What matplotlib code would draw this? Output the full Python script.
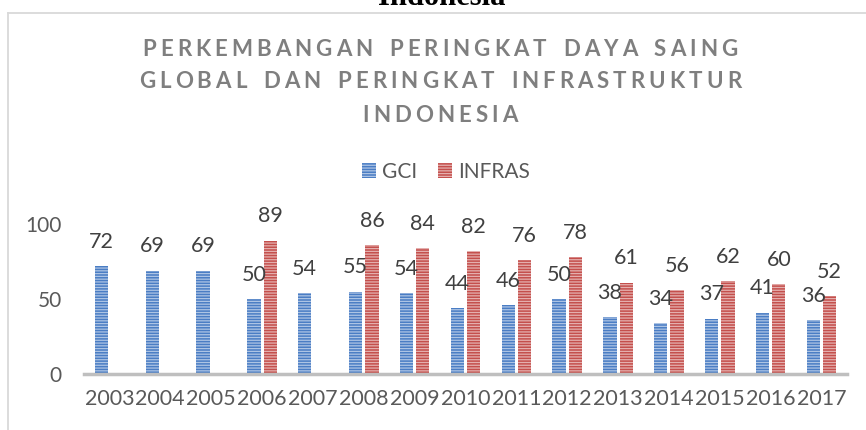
import matplotlib
matplotlib.use("Agg")
import matplotlib.pyplot as plt
from matplotlib.patches import Patch
from matplotlib.lines import Line2D
import numpy as np

years = ["2003", "2004", "2005", "2006", "2007", "2008", "2009", "2010",
         "2011", "2012", "2013", "2014", "2015", "2016", "2017"]
gci = [72, 69, 69, 50, 54, 55, 54, 44, 46, 50, 38, 34, 37, 41, 36]
infras = [None, None, None, 89, None, 86, 84, 82, 76, 78, 61, 56, 62, 60, 52]
series_names = ["GCI", "INFRAS"]
title_lines = ["PERKEMBANGAN PERINGKAT DAYA SAING",
               "GLOBAL DAN PERINGKAT INFRASTRUKTUR",
               "INDONESIA"]
yticks = [0, 50, 100]

BLUE = "#4A7DC4"
RED = "#C44F4C"
TXT = "#595959"
plt.rcParams['font.family'] = ['Lato', 'DejaVu Sans']
plt.rcParams['hatch.linewidth'] = 0.9

W, H = 866, 430
fig = plt.figure(figsize=(W / 100, H / 100), dpi=100)

# outer chart border (cropped)
fig.add_artist(Line2D([8 / W, 8 / W], [0, 1 - 13 / H], transform=fig.transFigure,
                      color="#D9D9D9", lw=1.3))
fig.add_artist(Line2D([8 / W, 1], [1 - 13 / H, 1 - 13 / H], transform=fig.transFigure,
                      color="#D9D9D9", lw=1.3))
# cropped heading above chart
fig.text(442 / W, 1 - 5 / H, "Indonesia", ha="center", va="baseline",
         fontsize=22, fontweight="bold", family=["Liberation Serif", "DejaVu Serif"], color="black")

ax = fig.add_axes([84 / W, (H - 374) / H, (847 - 84) / W, (374 - 224) / H])
x = np.arange(len(years))
bw = 0.26
off = 0.16
hatch_col = (1, 1, 1, 0.55)

gx = x - off
ax.bar(gx, gci, width=bw, color=BLUE, hatch="------", edgecolor=hatch_col, linewidth=0)
ix = np.array([xi + off for xi, v in zip(x, infras) if v is not None])
iv = [v for v in infras if v is not None]
ax.bar(ix, iv, width=bw, color=RED, hatch="------", edgecolor=hatch_col, linewidth=0)

for xi, v in zip(gx, gci):
    ax.annotate(str(v), (xi, v), xytext=(0, 13), textcoords="offset points",
                ha="center", va="baseline", fontsize=15.5, color="#404040", annotation_clip=False)
for xi, v in zip(ix, iv):
    ax.annotate(str(v), (xi, v), xytext=(0, 13), textcoords="offset points",
                ha="center", va="baseline", fontsize=15.5, color="#404040", annotation_clip=False)

ax.set_xlim(-0.5, len(years) - 0.5)
ax.set_ylim(0, 100)
ax.set_xticks(x)
ax.set_xticklabels(years, fontsize=15.5, color=TXT)
ax.set_yticks(yticks)
ax.set_yticklabels([str(t) for t in yticks], fontsize=15, color=TXT)
ax.tick_params(axis="both", length=0)
ax.tick_params(axis="x", pad=11)
ax.tick_params(axis="y", pad=16)
for s in ["top", "right", "left"]:
    ax.spines[s].set_visible(False)
ax.spines["bottom"].set_color("#BFBFBF")
ax.spines["bottom"].set_linewidth(2.5)
ax.patch.set_alpha(0)

# title with letter tracking
renderer = fig.canvas.get_renderer()
SPACE_EXTRA = 3.0
TITLE_W = 595  # px width of first title line
tkw = dict(fontsize=16, fontweight="bold", color="#7F7F7F")

def char_width(ch):
    t = fig.text(0, 0, ch if ch != " " else "n", **tkw)
    w = t.get_window_extent(renderer).width
    t.remove()
    return w if ch != " " else w * 0.45

w0 = [char_width(c) for c in title_lines[0]]
TRACK = (TITLE_W - sum(w0) - SPACE_EXTRA * title_lines[0].count(" ")) / (len(title_lines[0]) - 1)

for line, yc in zip(title_lines, [50, 82, 115]):
    widths = [char_width(c) for c in line]
    gaps = [TRACK + (SPACE_EXTRA if c == " " else 0) for c in line[:-1]]
    total = sum(widths) + sum(gaps)
    xpos = 440 - total / 2
    for c, w, g in zip(line, widths, gaps + [0]):
        if c != " ":
            fig.text(xpos / W, 1 - yc / H, c, ha="left", va="center", **tkw)
        xpos += w + g

handles = [Patch(facecolor=BLUE, hatch="------", edgecolor=hatch_col, linewidth=0),
           Patch(facecolor=RED, hatch="------", edgecolor=hatch_col, linewidth=0)]
fig.legend(handles, series_names, loc="center", bbox_to_anchor=(446 / W, 1 - 172 / H),
           ncol=2, frameon=False, fontsize=15, handlelength=0.68, handleheight=0.72,
           handletextpad=0.3, columnspacing=1.0, labelcolor=TXT)

fig.savefig("out.png", dpi=100)
